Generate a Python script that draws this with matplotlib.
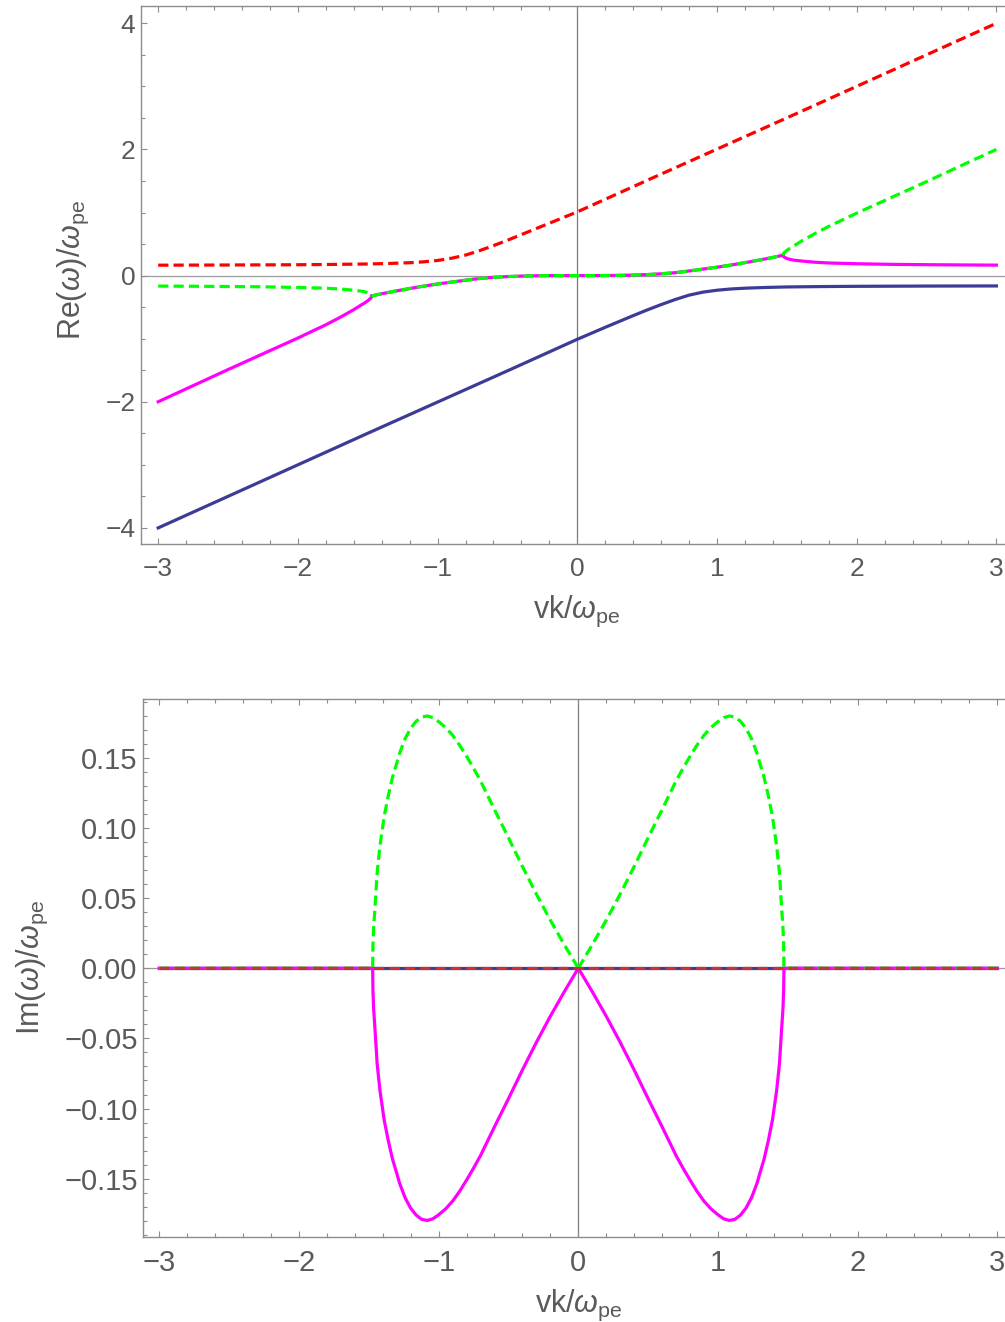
import matplotlib
matplotlib.use('Agg')
import matplotlib.pyplot as plt
from matplotlib.ticker import MultipleLocator

plt.rcParams['font.family'] = ['Liberation Sans', 'DejaVu Sans']
plt.rcParams['mathtext.fontset'] = 'custom'
plt.rcParams['mathtext.rm'] = 'Liberation Sans'
plt.rcParams['mathtext.it'] = 'Liberation Sans:italic'

# ---------------- data ----------------
# Real parts, top panel
blue_x = [-3.0, -2.5, -2.0, -1.5, -1.0, -0.5, -0.25, 0.0, 0.2, 0.4, 0.5, 0.6, 0.7,
          0.8, 0.9, 1.0, 1.1, 1.2, 1.35, 1.5, 1.75, 2.0, 2.5, 3.0]
blue_re = [-4.0, -3.5, -3.0, -2.5, -2.005, -1.51, -1.26, -1.01, -0.82, -0.635, -0.545,
           -0.46, -0.38, -0.31, -0.262, -0.232, -0.212, -0.2, -0.188, -0.18, -0.174,
           -0.17, -0.166, -0.164]
red_x = [-3.0, -2.5, -2.0, -1.75, -1.5, -1.35, -1.2, -1.1, -1.0, -0.9, -0.8, -0.7, -0.6,
         -0.5, -0.4, -0.2, 0.0, 0.25, 0.5, 1.0, 1.5, 2.0, 2.5, 3.0]
red_re = [0.165, 0.168, 0.172, 0.177, 0.184, 0.192, 0.204, 0.218, 0.24, 0.275, 0.325, 0.395,
          0.475, 0.56, 0.65, 0.83, 1.01, 1.26, 1.51, 2.005, 2.5, 3.0, 3.5, 4.0]

# Two branches on each side of the coalescence points
left_x = [-3.0, -2.75, -2.5, -2.25, -2.0, -1.8, -1.7, -1.6, -1.55, -1.52, -1.5, -1.49,
          -1.48, -1.475, -1.472]
green_re_left = [-0.166, -0.169, -0.173, -0.178, -0.188, -0.2, -0.212, -0.232, -0.245,
                 -0.258, -0.272, -0.282, -0.295, -0.305, -0.325]
magenta_re_left = [-2.0, -1.745, -1.49, -1.24, -0.99, -0.78, -0.665, -0.54, -0.47, -0.43,
                   -0.4, -0.38, -0.36, -0.345, -0.325]
right_x = [1.472, 1.475, 1.48, 1.49, 1.5, 1.52, 1.55, 1.6, 1.7, 1.8, 2.0, 2.25, 2.5,
           2.75, 3.0]
green_re_right = [0.325, 0.345, 0.36, 0.38, 0.4, 0.43, 0.47, 0.54, 0.665, 0.78, 0.99,
                  1.24, 1.49, 1.745, 2.0]
magenta_re_right = [0.325, 0.305, 0.295, 0.282, 0.272, 0.258, 0.245, 0.232, 0.212, 0.2,
                    0.188, 0.178, 0.173, 0.169, 0.166]
# complex-conjugate pair (shared real part)
pair_x = [-1.472, -1.45, -1.4, -1.3, -1.2, -1.1, -1.0, -0.9, -0.8, -0.7, -0.6, -0.5, -0.4,
          -0.3, -0.2, -0.1, 0.0, 0.1, 0.2, 0.3, 0.4, 0.5, 0.6, 0.7, 0.8, 0.9, 1.0, 1.1,
          1.2, 1.3, 1.4, 1.45, 1.472]
pair_re = [-0.325, -0.312, -0.288, -0.245, -0.205, -0.167, -0.133, -0.103, -0.073, -0.046,
           -0.028, -0.016, -0.008, -0.003, -0.001, 0.0, 0.0, 0.0, 0.001, 0.003, 0.008,
           0.016, 0.028, 0.046, 0.073, 0.103, 0.133, 0.167, 0.205, 0.245, 0.288, 0.312,
           0.325]

# Imaginary parts, bottom panel (growing branch, positive half of the k axis)
im_x_pos = [0.0, 0.1, 0.2, 0.3, 0.4, 0.5, 0.6, 0.7, 0.75, 0.8, 0.85, 0.9, 0.95, 1.0,
            1.04, 1.08, 1.12, 1.16, 1.2, 1.24, 1.28, 1.30, 1.33, 1.36, 1.39, 1.42, 1.44,
            1.455, 1.465, 1.47, 1.472, 3.0]
green_im_pos = [0.0, 0.0167, 0.0342, 0.0528, 0.0725, 0.093, 0.113, 0.1335, 0.1425, 0.151,
                0.159, 0.166, 0.1715, 0.1757, 0.1785, 0.1797, 0.179, 0.176, 0.171, 0.1635,
                0.153, 0.146, 0.136, 0.123, 0.108, 0.087, 0.068, 0.044, 0.029, 0.016, 0.0,
                0.0]
# same branch on the negative half of the k axis
im_x_neg = [-3.0, -1.472, -1.47, -1.465, -1.455, -1.44, -1.42, -1.39, -1.36, -1.33, -1.30,
            -1.28, -1.24, -1.2, -1.16, -1.12, -1.08, -1.04, -1.0, -0.95, -0.9, -0.85,
            -0.8, -0.75, -0.7, -0.6, -0.5, -0.4, -0.3, -0.2, -0.1, 0.0]
green_im_neg = [0.0, 0.0, 0.016, 0.029, 0.044, 0.068, 0.087, 0.108, 0.123, 0.136, 0.146,
                0.153, 0.1635, 0.171, 0.176, 0.179, 0.1797, 0.1785, 0.1757, 0.1715, 0.166,
                0.159, 0.151, 0.1425, 0.1335, 0.113, 0.093, 0.0725, 0.0528, 0.0342,
                0.0167, 0.0]
magenta_im_pos = [-v for v in green_im_pos]
magenta_im_neg = [-v for v in green_im_neg]
real_im_x = [-3.0, 3.0]
real_im = [0.0, 0.0]

x_ticks = [-3, -2, -1, 0, 1, 2, 3]
re_ticks = [-4, -2, 0, 2, 4]
im_ticks = [-0.15, -0.10, -0.05, 0.00, 0.05, 0.10, 0.15]
im_ticklabels = ['\u22120.15', '\u22120.10', '\u22120.05', '0.00', '0.05', '0.10', '0.15']

# ---------------- styling ----------------
RED = '#ff0000'
GREEN = '#00ff00'
MAGENTA = '#ff00ff'
NAVY = '#3c3c96'
FRAME = '#8c8c8c'
TXT = '#5a5a5a'
LW = 2.3
DASH = (3.2, 1.6)

W, H = 1005, 1322
fig = plt.figure(figsize=(W / 100, H / 100), dpi=100)
ax1 = fig.add_axes([141 / W, 1 - 544.3 / H, (1013.3 - 141) / W, (544.3 - 6) / H])
ax2 = fig.add_axes([143.3 / W, 1 - 1236.7 / H, (1013.3 - 143.3) / W, (1236.7 - 699.3) / H])


def style(ax, fs):
    for s in ['left', 'bottom', 'top']:
        ax.spines[s].set_color(FRAME)
        ax.spines[s].set_linewidth(1.0)
    ax.spines['right'].set_visible(False)
    ax.tick_params(which='both', direction='in', top=True, right=False,
                   color=FRAME, width=0.8, labelcolor=TXT, labelsize=fs)
    ax.tick_params(which='major', length=4.5)
    ax.tick_params(which='minor', length=2.6)
    ax.tick_params(axis='x', which='major', pad=9)
    ax.tick_params(axis='y', which='major', pad=4)
    ax.axhline(0, color='#9a9a9a', lw=0.9, zorder=1)
    ax.axvline(0, color='#7a7a7a', lw=0.9, zorder=1)


def dashed(ax, xs, ys, color, z):
    ax.plot(xs, ys, color=color, lw=LW, dashes=DASH, dash_capstyle='butt',
            solid_joinstyle='round', zorder=z)


# ---- top panel ----
style(ax1, 19)
ax1.plot(blue_x, blue_re, color=NAVY, lw=LW, zorder=3)
ax1.plot(left_x, magenta_re_left, color=MAGENTA, lw=LW, zorder=3)
ax1.plot(pair_x, pair_re, color=MAGENTA, lw=LW, zorder=3)
ax1.plot(right_x, magenta_re_right, color=MAGENTA, lw=LW, zorder=3)
dashed(ax1, left_x, green_re_left, GREEN, 4)
dashed(ax1, pair_x, pair_re, GREEN, 4)
dashed(ax1, right_x, green_re_right, GREEN, 4)
dashed(ax1, red_x, red_re, RED, 4)
ax1.set_xlim(-3.123, 3.121)
ax1.set_ylim(-4.26, 4.274)
ax1.set_xticks(x_ticks)
ax1.set_yticks(re_ticks)
ax1.xaxis.set_minor_locator(MultipleLocator(0.2))
ax1.yaxis.set_minor_locator(MultipleLocator(0.5))
ax1.set_xlabel(r'vk/$\omega_{\rm pe}$', fontsize=22, color=TXT, va='center')
ax1.xaxis.set_label_coords(0.5, -0.125)
ax1.set_ylabel(r'Re($\omega$)/$\omega_{\rm pe}$', fontsize=22, color=TXT, va='center')
ax1.yaxis.set_label_coords(-0.077, 0.51)

# ---- bottom panel ----
style(ax2, 21)
ax2.plot(real_im_x, real_im, color=NAVY, lw=LW, zorder=3)
ax2.plot(im_x_neg, magenta_im_neg, color=MAGENTA, lw=LW, zorder=3)
ax2.plot(im_x_pos, magenta_im_pos, color=MAGENTA, lw=LW, zorder=3)
dashed(ax2, im_x_neg, green_im_neg, GREEN, 4)
dashed(ax2, im_x_pos, green_im_pos, GREEN, 4)
dashed(ax2, real_im_x, real_im, '#c83232', 5)
ax2.set_xlim(-3.114, 3.114)
ax2.set_ylim(-0.1913, 0.1916)
ax2.set_xticks(x_ticks)
ax2.set_yticks(im_ticks)
ax2.set_yticklabels(im_ticklabels)
ax2.xaxis.set_minor_locator(MultipleLocator(0.2))
ax2.yaxis.set_minor_locator(MultipleLocator(0.01))
ax2.set_xlabel(r'vk/$\omega_{\rm pe}$', fontsize=22, color=TXT, va='center')
ax2.xaxis.set_label_coords(0.5, -0.127)
ax2.set_ylabel(r'Im($\omega$)/$\omega_{\rm pe}$', fontsize=22, color=TXT, va='center')
ax2.yaxis.set_label_coords(-0.128, 0.5)

fig.savefig('out.png', dpi=100)
